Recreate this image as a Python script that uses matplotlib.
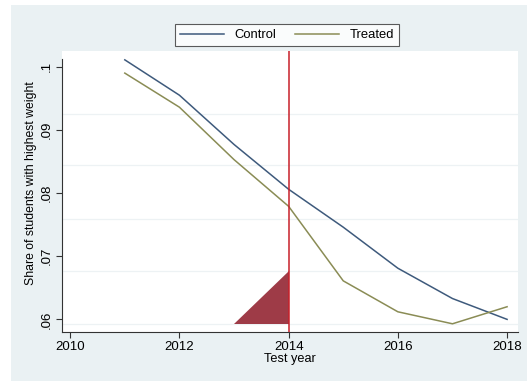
import numpy as np
import matplotlib.pyplot as plt
from matplotlib.patches import Rectangle

plt.rcParams['font.family'] = ['Liberation Sans', 'DejaVu Sans']

# Data
years = [2011, 2012, 2013, 2014, 2015, 2016, 2017, 2018]
control = [0.1011, 0.0955, 0.0877, 0.0806, 0.0746, 0.0681, 0.0633, 0.0600]
treated = [0.0990, 0.0936, 0.0853, 0.0779, 0.0661, 0.0612, 0.0593, 0.0620]
treat_year = 2014
shade_x = [2013, 2014, 2014]
shade_y = [0.0593, 0.0593, 0.0677]
grid_y = [0.05926, 0.06769, 0.07597, 0.08438, 0.09253]
xticks = [2010, 2012, 2014, 2016, 2018]
yticks = [0.06, 0.07, 0.08, 0.09, 0.10]
ytick_labels = ['.06', '.07', '.08', '.09', '.1']

bg = '#eaf1f3'
c_control = '#3e5a7c'
c_treated = '#8a8c55'
c_red = '#c8202a'
c_shade = '#9e3b47'

fig = plt.figure(figsize=(5.27, 3.81), dpi=100)
fig.patches.append(Rectangle((11 / 527, 0), 1, 1 - 5 / 381, transform=fig.transFigure,
                             facecolor=bg, edgecolor='none', zorder=-10))

ax = fig.add_axes([62 / 527, 49 / 381, (518 - 62) / 527, (332 - 51) / 381])
ax.set_facecolor('white')

for g in grid_y:
    ax.axhline(g, color='#edf2f4', lw=0.9, zorder=1)

ax.fill(shade_x, shade_y, color=c_shade, lw=0, zorder=2)
ax.plot(years, control, color=c_control, lw=1.1, label='Control', zorder=3)
ax.plot(years, treated, color=c_treated, lw=1.1, label='Treated', zorder=3)
ax.axvline(treat_year, color=c_red, lw=1.1, zorder=4)

ax.set_xlim(2009.85, 2018.2)
ax.set_ylim(0.058, 0.1025)
ax.set_xticks(xticks)
ax.set_yticks(yticks)
ax.set_yticklabels(ytick_labels, rotation=90, va='center')
ax.tick_params(labelsize=9.5, length=4, width=0.8, color='#333333', pad=2.5)

for s in ['top', 'right']:
    ax.spines[s].set_visible(False)
ax.spines['left'].set_bounds(0.058, 0.1012)
ax.spines['bottom'].set_bounds(2009.85, 2018.2)
for s in ['left', 'bottom']:
    ax.spines[s].set_linewidth(0.8)
    ax.spines[s].set_color('#333333')

ax.set_xlabel('Test year', fontsize=9.2, labelpad=0)
ax.set_ylabel('Share of students with highest weight', fontsize=8.8, va='center')
ax.yaxis.set_label_coords(-0.069, 0.53)

leg = fig.legend(loc='center', bbox_to_anchor=(287 / 527, 1 - 35 / 381), ncol=2,
                 frameon=True, fancybox=False, fontsize=9.4, handlelength=3.4,
                 columnspacing=1.4, borderpad=0.35, handletextpad=0.8)
leg.get_frame().set_edgecolor('#333333')
leg.get_frame().set_linewidth(0.8)

fig.savefig('out.png', dpi=100, facecolor='white')
